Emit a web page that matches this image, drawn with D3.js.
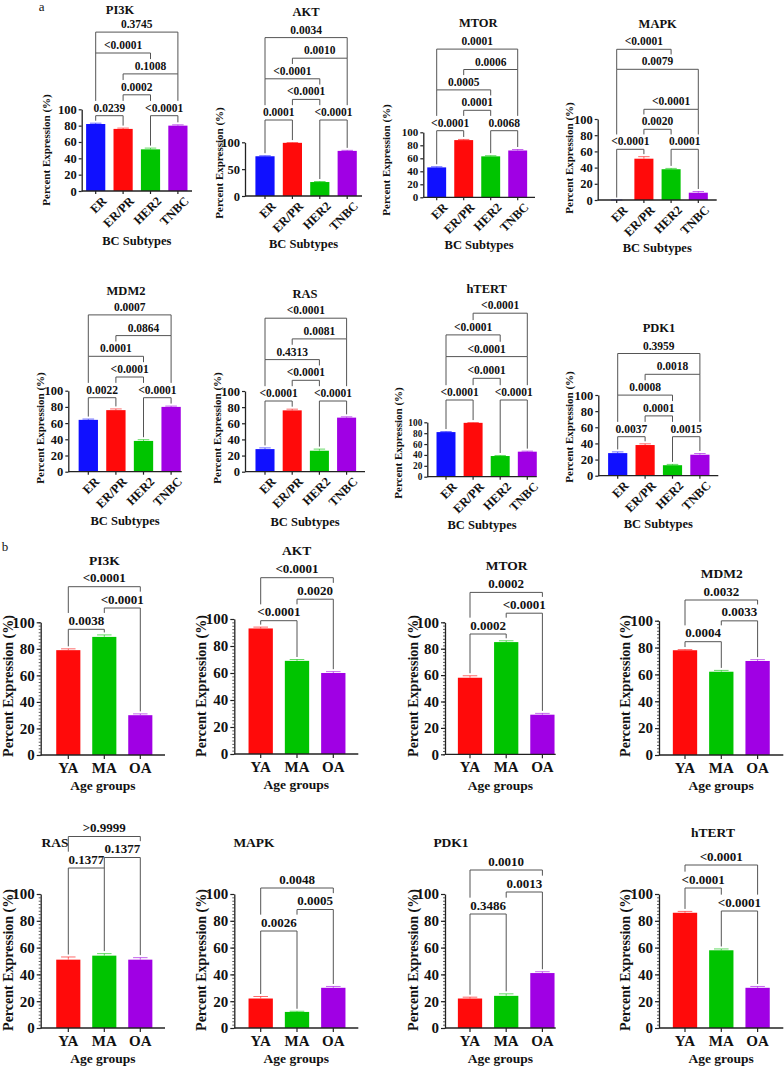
<!DOCTYPE html>
<html><head><meta charset="utf-8">
<script src="https://cdn.jsdelivr.net/npm/d3@7"></script>
<style>
html,body{margin:0;padding:0;background:#fff;}
text{font-family:"Liberation Serif","Times New Roman",serif;font-weight:bold;fill:#111;}
</style></head>
<body><svg id="fig" width="784" height="1069"></svg>
<script>
// ---------------- DATA ----------------
const subtypes = ["ER","ER/PR","HER2","TNBC"];
const ageGroups = ["YA","MA","OA"];
const subtypeColors = ["#1010ff","#ff0a0a","#00c400","#a000e4"];
const ageColors = ["#ff0a0a","#00c400","#a000e4"];

// Panel a: expression by BC subtype
const aGenes = ["PI3K","AKT","MTOR","MAPK","MDM2","RAS","hTERT","PDK1"];
const aValues = [
  [82,76,51,80],
  [74,99,26,84],
  [46,88,63,72],
  [0,51,38,9],
  [64,76,38,80],
  [28,76,26,67],
  [82,99,38,46],
  [28,38,13,26]
];
const aErrors = [
  [1,1,1.5,1],
  [1,0.5,1,1],
  [1,1,1,1.5],
  [0,2.5,1,1.5],
  [1,1.5,1.5,1],
  [1.5,1.5,2,1],
  [1,0.5,1,1],
  [1.5,1.5,1,1.5]
];
const aTicks = [
  [0,20,40,60,80,100],
  [0,50,100],
  [0,20,40,60,80,100],
  [0,20,40,60,80,100],
  [0,20,40,60,80,100],
  [0,20,40,60,80,100],
  [0,20,40,60,80,100],
  [0,20,40,60,80,100]
];
// comparisons: [groupA, groupB, p-value label, bracket level]
const aComparisons = [
  [[0,1,"0.0239",1],[2,3,"<0.0001",1],[1,2,"0.0002",2],[1,3,"0.1008",3],[0,2,"<0.0001",4],[0,3,"0.3745",5]],
  [[0,1,"0.0001",1],[2,3,"<0.0001",1],[1,2,"<0.0001",2],[0,2,"<0.0001",3],[1,3,"0.0010",4],[0,3,"0.0034",5]],
  [[0,1,"<0.0001",1],[2,3,"0.0068",1],[1,2,"0.0001",2],[0,2,"0.0005",3],[1,3,"0.0006",4],[0,3,"0.0001",5]],
  [[0,1,"<0.0001",1],[2,3,"0.0001",1],[1,2,"0.0020",2],[1,3,"<0.0001",3],[0,3,"0.0079",5],[0,2,"<0.0001",6]],
  [[0,1,"0.0022",1],[2,3,"<0.0001",1],[1,2,"<0.0001",2],[0,2,"0.0001",3],[1,3,"0.0864",4],[0,3,"0.0007",5]],
  [[0,1,"<0.0001",1],[2,3,"<0.0001",1],[1,2,"<0.0001",2],[0,2,"0.4313",3],[1,3,"0.0081",4],[0,3,"<0.0001",5]],
  [[0,1,"<0.0001",1],[2,3,"<0.0001",1],[1,2,"<0.0001",2],[0,3,"<0.0001",3],[0,2,"<0.0001",4],[1,3,"<0.0001",5]],
  [[0,1,"0.0037",1],[2,3,"0.0015",1],[1,2,"0.0001",2],[0,2,"0.0008",3],[1,3,"0.0018",4],[0,3,"0.3959",5]]
];

// Panel b: expression by age group
const bGenes = ["PI3K","AKT","MTOR","MDM2","RAS","MAPK","PDK1","hTERT"];
const bValues = [
  [79,89,30],
  [93,69,60],
  [58,85,30],
  [78,62,70],
  [51,54,51],
  [22,12,30],
  [22,24,41],
  [86,58,30]
];
const bErrors = [
  [1,1.5,1],
  [1,1,1],
  [1.5,1,1],
  [0.5,1,1],
  [2,1.5,1.5],
  [1.5,0.5,1],
  [1,1.5,1],
  [1,1,1]
];
const bTicks = [0,20,40,60,80,100];
const bComparisons = [
  [[0,1,"0.0038",1],[1,2,"<0.0001",2],[0,2,"<0.0001",3]],
  [[0,1,"<0.0001",1],[1,2,"0.0020",2],[0,2,"<0.0001",3]],
  [[0,1,"0.0002",1],[1,2,"<0.0001",2],[0,2,"0.0002",3]],
  [[0,1,"0.0004",1],[1,2,"0.0033",2],[0,2,"0.0032",3]],
  [[0,1,"0.1377",1],[1,2,"0.1377",1.5],[0,2,">0.9999",2.5]],
  [[0,1,"0.0026",1],[1,2,"0.0005",2],[0,2,"0.0048",3]],
  [[0,1,"0.3486",1],[1,2,"0.0013",2],[0,2,"0.0010",3]],
  [[1,2,"<0.0001",1],[0,1,"<0.0001",2],[0,2,"<0.0001",3]]
];
const yTitle = "Percent Expression (%)";
const aXTitle = "BC Subtypes";
const bXTitle = "Age groups";

// ---------------- LAYOUT ----------------
const aLayout = [
 {x0:81.7, c0:95.7, step:27.4, xEnd:192, y0:191, yTop:109.3, lvl1:115.7, gap:20.9, tx:120, ty:9.3, lx:46, ly:150, xty:241},
 {x0:245, c0:265, step:27.4, xEnd:362, y0:196, yTop:142.3, lvl1:120, gap:20.6, tx:306, ty:11.7, lx:219, ly:163, xty:244},
 {x0:423.3, c0:436.7, step:27, xEnd:535, y0:197.3, yTop:132.3, lvl1:130.7, gap:20.4, tx:478.3, ty:22.7, lx:386, ly:160, xty:245, tf:11},
 {x0:597.7, c0:616.7, step:27.2, xEnd:716.7, y0:200, yTop:119, lvl1:149.3, gap:20, tx:657.7, ty:23.3, lx:569, ly:158, xty:247.3},
 {x0:68.3, c0:88.3, step:27.6, xEnd:181.7, y0:471.7, yTop:390.7, lvl1:397.7, gap:20.7, tx:126, ty:290.7, lx:40.5, ly:428, xty:520.7},
 {x0:245, c0:265, step:27.2, xEnd:365, y0:471.7, yTop:391, lvl1:401, gap:20.7, tx:305, ty:294, lx:217.5, ly:428, xty:521.7},
 {x0:427.3, c0:446, step:27.1, xEnd:536.7, y0:476.7, yTop:422.3, lvl1:400, gap:21.7, tx:486.7, ty:288.3, lx:398, ly:443, xty:525, tf:9.3},
 {x0:598.3, c0:617.7, step:27.4, xEnd:718.3, y0:475.7, yTop:395, lvl1:436.7, gap:20.8, tx:659, ty:327.3, lx:569, ly:427, xty:523.3}
];
const bLayout = [
 {x0:40.7, c0:68.3, step:36, xEnd:165, y0:755, yTop:622.3, lvl1:629.3, gap:21.3, tx:104.3, ty:560, lx:8.5, ly:686},
 {x0:234.3, c0:260.7, step:36.3, xEnd:358.3, y0:754, yTop:619, lvl1:620.7, gap:21.5, tx:296.7, ty:550, lx:201, ly:686},
 {x0:445, c0:470, step:36.2, xEnd:555.7, y0:754.3, yTop:622.3, lvl1:634, gap:20.8, tx:506.7, ty:565.7, lx:413.3, ly:686},
 {x0:659, c0:685, step:36.3, xEnd:783.3, y0:755, yTop:620.7, lvl1:641.7, gap:20.85, tx:721.7, ty:573.3, lx:625, ly:686},
 {x0:40.7, c0:68.3, step:36, xEnd:165, y0:1028, yTop:894, lvl1:868, gap:21, tx:55, ty:842, lx:8.5, ly:960},
 {x0:234.3, c0:260.7, step:36.3, xEnd:358.3, y0:1028, yTop:894, lvl1:931, gap:21.5, tx:254, ty:842, lx:201, ly:960},
 {x0:445, c0:470, step:36.2, xEnd:555.7, y0:1028, yTop:894, lvl1:914, gap:22, tx:451, ty:842, lx:413.3, ly:960},
 {x0:659, c0:685, step:36.3, xEnd:783.3, y0:1028, yTop:894, lvl1:911, gap:23, tx:713, ty:832, lx:625, ly:960}
];
const Sa = {pad:0.3, tick:3, tickFont:12.5, title:12.5, pFont:11.5, yFont:11, xTickFont:12.5, xtFont:12.5, rotate:true, minor:false, txtOff:4};
const Sb = {pad:0.33, tick:4, tickFont:15, title:13.5, pFont:13, yFont:14, xTickFont:15, xtFont:13.5, rotate:false, minor:true, txtOff:4.5};

const svg = d3.select("#fig");
svg.append("rect").attr("width",784).attr("height",1069).attr("fill","#fff");

function drawPanel(cats, colors, vals, errs, ticks, comps, gene, xTitleText, L, S){
  const g = svg.append("g");
  const x = d3.scaleBand().domain(cats)
    .range([L.c0 - L.step/2, L.c0 + (cats.length-0.5)*L.step])
    .paddingInner(S.pad).paddingOuter(S.pad/2);
  const cx = i => x(cats[i]) + x.bandwidth()/2;
  const y = d3.scaleLinear().domain([0,100]).range([L.y0, L.yTop]);

  // bars
  g.selectAll("rect.bar").data(vals).join("rect").attr("class","bar")
    .attr("x",(d,i)=>x(cats[i])).attr("y",d=>y(d))
    .attr("width",x.bandwidth()).attr("height",d=>L.y0-y(d))
    .attr("fill",(d,i)=>colors[i]);
  // error bars
  const eb = g.selectAll("g.err").data(vals).join("g").attr("class","err");
  eb.append("line").attr("x1",(d,i)=>cx(i)).attr("x2",(d,i)=>cx(i))
    .attr("y1",d=>y(d)).attr("y2",(d,i)=>y(d+errs[i]))
    .attr("stroke",(d,i)=>colors[i]).attr("stroke-width",1).attr("opacity",0.6);
  eb.append("line").attr("x1",(d,i)=>cx(i)-x.bandwidth()*0.3).attr("x2",(d,i)=>cx(i)+x.bandwidth()*0.3)
    .attr("y1",(d,i)=>y(d+errs[i])).attr("y2",(d,i)=>y(d+errs[i]))
    .attr("stroke",(d,i)=>colors[i]).attr("stroke-width",1).attr("opacity",0.6);

  // y axis
  if (S.minor) {
    g.append("g").attr("transform",`translate(${L.x0},0)`)
      .call(d3.axisLeft(y).tickValues(d3.range(0,100.01,2.5)).tickSize(2).tickFormat(""))
      .call(a=>a.select(".domain").remove())
      .selectAll("line").attr("stroke","#333").attr("stroke-width",0.8);
  }
  const ya = g.append("g").attr("transform",`translate(${L.x0},0)`)
    .call(d3.axisLeft(y).tickValues(ticks).tickSize(S.tick).tickSizeOuter(0).tickPadding(2).tickFormat(d3.format("d")));
  ya.select(".domain").attr("stroke","#222").attr("stroke-width",1.3);
  ya.selectAll(".tick line").attr("stroke","#222").attr("stroke-width",1.2);
  ya.selectAll(".tick text").attr("font-size",L.tf || S.tickFont).attr("font-family",null).attr("fill","#111");

  // x axis
  const xa = g.append("g").attr("transform",`translate(0,${L.y0})`)
    .call(d3.axisBottom(x).tickSize(S.tick).tickSizeOuter(0).tickPadding(3));
  xa.select(".domain").remove();
  xa.selectAll(".tick line").attr("stroke","#222").attr("stroke-width",1.2);
  xa.selectAll(".tick text").attr("font-size",S.xTickFont).attr("font-family",null).attr("fill","#111");
  if (S.rotate) {
    xa.selectAll(".tick text").attr("text-anchor","end")
      .attr("transform","translate(3,2) rotate(-45)").attr("dy","0.75em").attr("y",3).attr("x",0);
  } else {
    xa.selectAll(".tick text").attr("y",7);
  }
  g.append("line").attr("x1",L.x0).attr("x2",L.xEnd).attr("y1",L.y0).attr("y2",L.y0)
    .attr("stroke","#222").attr("stroke-width",1.3);

  // titles
  g.append("text").attr("x",L.tx).attr("y",L.ty).attr("dy","0.35em").attr("text-anchor","middle")
    .attr("font-size",S.title).text(gene);
  g.append("text").attr("transform",`translate(${L.lx},${L.ly}) rotate(-90)`).attr("dy","0.35em")
    .attr("text-anchor","middle").attr("font-size",S.yFont).text(yTitle);
  const xty = L.xty !== undefined ? L.xty : L.y0 + 30.7;
  g.append("text").attr("x",(L.x0+L.xEnd)/2).attr("y",xty).attr("dy","0.35em").attr("text-anchor","middle")
    .attr("font-size",S.xtFont).text(xTitleText);

  // brackets
  const placed = [];
  const sorted = comps.slice().sort((a,b)=>a[3]-b[3]);
  sorted.forEach(c=>{
    const x1 = cx(c[0]), x2 = cx(c[1]);
    const yl = L.lvl1 - (c[3]-1)*L.gap;
    const t = g.append("text").attr("x",(x1+x2)/2).attr("y",yl - S.txtOff).attr("text-anchor","middle")
      .attr("font-size",S.pFont).text(c[2]);
    const bb = t.node().getBBox();
    placed.push({x1,x2,yl,left:bb.x,right:bb.x+bb.width,top:yl - S.txtOff - S.pFont*0.68, i:c[0], j:c[1]});
  });
  placed.forEach(b=>{
    const legBottom = (xp, idx) => {
      let best = y(vals[idx] + errs[idx]) - 2.5;
      placed.forEach(o=>{
        if (o === b || o.yl <= b.yl + 0.5) return;
        if (xp >= o.x1 - 0.5 && xp <= o.x2 + 0.5) best = Math.min(best, o.yl);
        if (xp >= o.left - 1 && xp <= o.right + 1 && o.top > b.yl + 1) best = Math.min(best, o.top - 3);
      });
      return best;
    };
    const b1 = legBottom(b.x1, b.i), b2 = legBottom(b.x2, b.j);
    g.append("path").attr("d",`M${b.x1},${b1}V${b.yl}H${b.x2}V${b2}`)
      .attr("fill","none").attr("stroke","#555").attr("stroke-width",1);
  });
}

aGenes.forEach((gene,k)=>drawPanel(subtypes, subtypeColors, aValues[k], aErrors[k], aTicks[k], aComparisons[k], gene, aXTitle, aLayout[k], Sa));
bGenes.forEach((gene,k)=>drawPanel(ageGroups, ageColors, bValues[k], bErrors[k], bTicks, bComparisons[k], gene, bXTitle, bLayout[k], Sb));

svg.append("text").attr("x",41.7).attr("y",6).attr("dy","0.35em").attr("text-anchor","middle")
  .attr("font-size",13).style("font-weight","normal").text("a");
svg.append("text").attr("x",5).attr("y",546.7).attr("dy","0.35em").attr("text-anchor","middle")
  .attr("font-size",13).style("font-weight","normal").text("b");
</script></body></html>
